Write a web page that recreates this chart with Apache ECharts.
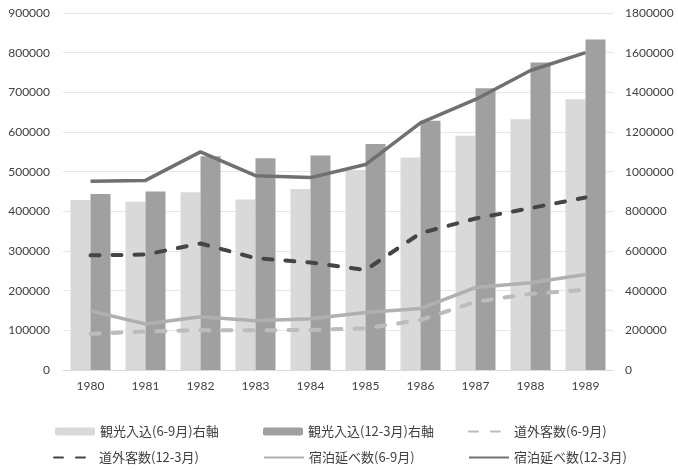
<!DOCTYPE html>
<html>
<head>
<meta charset="utf-8">
<script src="https://cdn.jsdelivr.net/npm/echarts@6/dist/echarts.min.js"></script>
<style>html,body{margin:0;padding:0;background:#fff;}#c{width:678px;height:470px;}</style>
</head>
<body>
<div id="c"></div>
<script>
var years = ['1980','1981','1982','1983','1984','1985','1986','1987','1988','1989'];
// bars (right axis)
var kankoSummer = [857000, 848000, 896000, 860000, 912000, 1008000, 1072000, 1181000, 1264000, 1365000];
var kankoWinter = [887000, 900000, 1078000, 1068000, 1082000, 1140000, 1257000, 1420000, 1551000, 1667000];
// lines (left axis)
var dogaiSummer = [91000, 97000, 100000, 100000, 101000, 105000, 126000, 172000, 192000, 202000];
var dogaiWinter = [289000, 291000, 319000, 282000, 271000, 252000, 345000, 382000, 408000, 435000];
var shukuhakuSummer = [149000, 116000, 134000, 124000, 129000, 145000, 155000, 208000, 220000, 241000];
var shukuhakuWinter = [476000, 478000, 550000, 490000, 485000, 518000, 623000, 682000, 755000, 800000];
var names = ['観光入込(6-9月)右軸','観光入込(12-3月)右軸','道外客数(6-9月)','道外客数(12-3月)','宿泊延べ数(6-9月)','宿泊延べ数(12-3月)'];

var numFont = 'Lato, "Noto Sans", sans-serif';
var cjkFont = '"Noto Sans CJK JP", sans-serif';

function leg(name, left, top, isLine) {
  var o = {
    data: [name], left: left, top: top, orient: 'horizontal',
    itemWidth: 40, itemHeight: 8, padding: 0,
    textStyle: { fontFamily: cjkFont, fontSize: 13, color: '#404040' }
  };
  if (isLine) { o.itemStyle = { opacity: 0 }; }
  return o;
}
function plain(v) { return String(v); }

var chart = echarts.init(document.getElementById('c'), null, {renderer: 'canvas'});
chart.setOption({
  animation: false,
  backgroundColor: '#ffffff',
  grid: { left: 63, right: 65, top: 13, bottom: 100, containLabel: false },
  legend: [
    leg(names[0], 55, 425, false),
    leg(names[1], 263, 425, false),
    leg(names[2], 468, 425, true),
    leg(names[3], 53, 451, true),
    leg(names[4], 263, 451, true),
    leg(names[5], 468, 451, true)
  ],
  xAxis: {
    type: 'category', data: years, boundaryGap: true,
    axisTick: { show: false },
    axisLine: { lineStyle: { color: '#d9d9d9', width: 1 } },
    axisLabel: { margin: 10, fontFamily: numFont, fontSize: 12, color: '#404040' }
  },
  yAxis: [
    { type: 'value', min: 0, max: 900000, interval: 100000,
      axisLine: { show: false }, axisTick: { show: false },
      axisLabel: { margin: 13, fontFamily: numFont, fontSize: 12, color: '#404040', formatter: plain },
      splitLine: { lineStyle: { color: '#e6e6e6', width: 1 } } },
    { type: 'value', min: 0, max: 1800000, interval: 200000, position: 'right',
      axisLine: { show: false }, axisTick: { show: false },
      axisLabel: { margin: 12, fontFamily: numFont, fontSize: 12, color: '#404040', formatter: plain },
      splitLine: { show: false } }
  ],
  series: [
    { name: names[0], type: 'bar', yAxisIndex: 1, data: kankoSummer, barWidth: 20, barGap: '0%',
      itemStyle: { color: '#d9d9d9' } },
    { name: names[1], type: 'bar', yAxisIndex: 1, data: kankoWinter, barWidth: 20, barGap: '0%',
      itemStyle: { color: '#a0a0a0' } },
    { name: names[2], type: 'line', yAxisIndex: 0, data: dogaiSummer, symbol: 'none', z: 3,
      lineStyle: { color: '#bcbcbc', width: 4, type: [9, 13], cap: 'round' }, itemStyle: { color: '#bcbcbc' } },
    { name: names[3], type: 'line', yAxisIndex: 0, data: dogaiWinter, symbol: 'none', z: 3,
      lineStyle: { color: '#454545', width: 4, type: [9, 13], cap: 'round' }, itemStyle: { color: '#454545' } },
    { name: names[4], type: 'line', yAxisIndex: 0, data: shukuhakuSummer, symbol: 'none', z: 3,
      lineStyle: { color: '#b0b0b0', width: 3.5 }, itemStyle: { color: '#b0b0b0' } },
    { name: names[5], type: 'line', yAxisIndex: 0, data: shukuhakuWinter, symbol: 'none', z: 3,
      lineStyle: { color: '#707070', width: 3.5 }, itemStyle: { color: '#707070' } }
  ]
});
</script>
</body>
</html>
